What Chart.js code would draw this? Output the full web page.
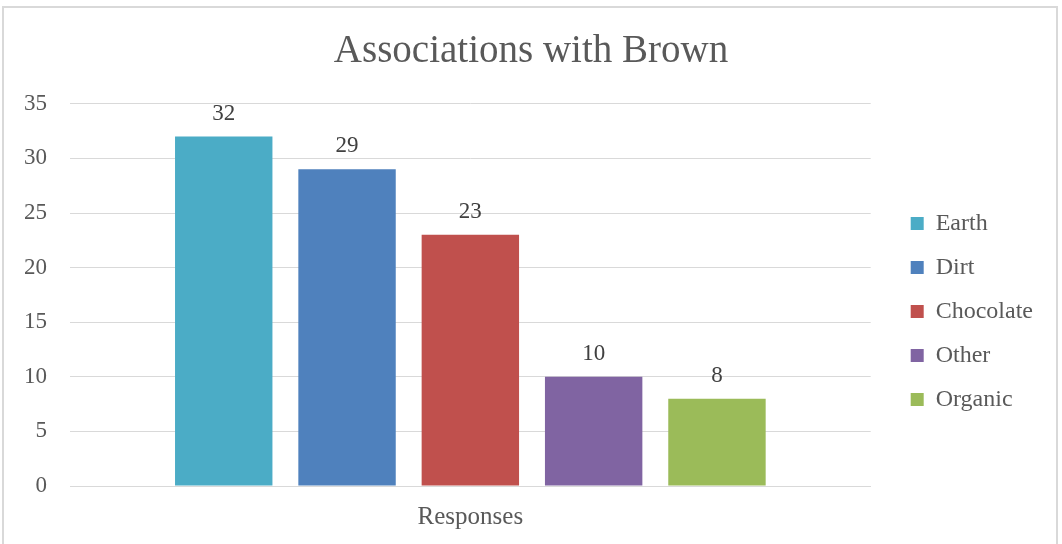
<!DOCTYPE html>
<html>
<head>
<meta charset="utf-8">
<script src="https://cdn.jsdelivr.net/npm/chart.js@4"></script>
<style>
  html, body { margin: 0; padding: 0; background: #fff; overflow: hidden; }
  #wrap { position: relative; width: 1062px; height: 544px; }
  #frame {
    position: absolute; left: 2px; top: 6px; width: 1052px; height: 600px;
    border: 2px solid #d9d9d9; pointer-events: none;
  }
  canvas { position: absolute; left: 0; top: 0; }
</style>
</head>
<body>
<div id="wrap">
  <canvas id="brownChart" width="1062" height="544"></canvas>
  <div id="frame"></div>
</div>
<script>
const categories = ['Responses'];
const seriesNames = ['Earth', 'Dirt', 'Chocolate', 'Other', 'Organic'];
const seriesValues = [32, 29, 23, 10, 8];
const seriesColors = ['#4BACC6', '#4F81BD', '#C0504D', '#8064A2', '#9BBB59'];
const yTicks = [0, 5, 10, 15, 20, 25, 30, 35];

const textColor = '#595959';
const gridColor = '#d9d9d9';

Chart.defaults.font.family = "'Liberation Serif', serif";
Chart.defaults.color = textColor;

// value above each bar
const barValueLabels = {
  id: 'barValueLabels',
  afterDatasetsDraw(chart) {
    const ctx = chart.ctx;
    ctx.save();
    ctx.font = "23px 'Liberation Serif', serif";
    ctx.fillStyle = '#404040';
    ctx.textAlign = 'center';
    ctx.textBaseline = 'alphabetic';
    chart.data.datasets.forEach((ds, i) => {
      const meta = chart.getDatasetMeta(i);
      meta.data.forEach((bar, j) => {
        ctx.fillText(String(ds.data[j]), bar.x, bar.y - 17);
      });
    });
    ctx.restore();
  }
};

// center the title on the whole canvas, not just the space left of the padding
const fullWidthTitle = {
  id: 'fullWidthTitle',
  afterLayout(chart) {
    if (chart.titleBlock) {
      chart.titleBlock.left = 0;
      chart.titleBlock.right = chart.width;
    }
  }
};

const datasets = seriesNames.map((name, i) => ({
  label: name,
  data: [seriesValues[i]],
  backgroundColor: seriesColors[i],
  borderWidth: 0,
  categoryPercentage: 0.77,
  barPercentage: 0.79
}));

new Chart(document.getElementById('brownChart'), {
  type: 'bar',
  data: { labels: categories, datasets: datasets },
  options: {
    responsive: false,
    animation: false,
    layout: { padding: { top: 0, left: 0, right: 19, bottom: 0 } },
    plugins: {
      title: {
        display: true,
        text: 'Associations with Brown',
        color: textColor,
        font: { size: 39, weight: 'normal' },
        padding: { top: 28, bottom: 29 }
      },
      legend: {
        position: 'right',
        align: 'center',
        fullSize: false,
        title: { display: true, text: ' ', font: { size: 12 }, padding: 9.3 },
        labels: {
          boxWidth: 13,
          boxHeight: 13,
          padding: 20,
          color: textColor,
          font: { size: 24 }
        }
      },
      tooltip: { enabled: false }
    },
    scales: {
      x: {
        afterFit: (s) => { s.height = 58; },
        grid: { display: false, drawTicks: false },
        border: { display: true, color: gridColor, width: 1 },
        ticks: { color: textColor, font: { size: 25 }, padding: 16 }
      },
      y: {
        min: 0,
        max: 35,
        afterBuildTicks: (s) => { s.ticks = yTicks.map(v => ({ value: v })); },
        afterFit: (s) => { s.width = 70; },
        grid: { color: gridColor, lineWidth: 1, drawTicks: false },
        border: { display: false },
        ticks: { color: textColor, font: { size: 23 }, padding: 23 }
      },
      // spacer between plot and legend
      gap: {
        type: 'linear',
        position: 'right',
        display: true,
        grid: { display: false },
        border: { display: false },
        ticks: { display: false },
        afterFit: (s) => { s.width = 20; }
      }
    }
  },
  plugins: [barValueLabels, fullWidthTitle]
});
</script>
</body>
</html>
